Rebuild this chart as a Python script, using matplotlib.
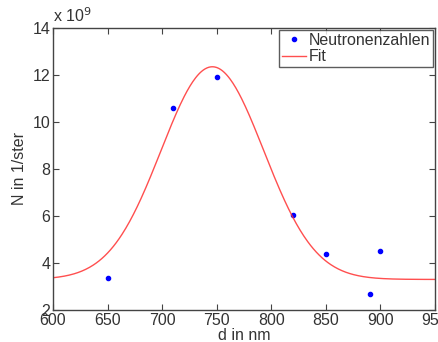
import matplotlib.pyplot as plt
import numpy as np

plt.rcParams['font.family'] = ['Liberation Sans', 'DejaVu Sans']

# measured points (N in units of 1e9 1/ster)
d_nm = [650, 710, 750, 820, 850, 890, 900]
n_counts = [3.35, 10.6, 11.9, 6.05, 4.4, 2.7, 4.5]

# gaussian fit parameters
fit_offset = 3.3
fit_amp = 9.05
fit_center = 746
fit_sigma = 47

d_fit = np.linspace(600, 950, 400)
n_fit = fit_offset + fit_amp * np.exp(-(d_fit - fit_center) ** 2 / (2 * fit_sigma ** 2))

text_col = '#333333'

fig = plt.figure(figsize=(4.39, 3.42), dpi=100)
ax = fig.add_axes([0.1207, 0.0936, 0.8703, 0.8246])

ax.plot(d_nm, n_counts, '.', color='#0000ff', markersize=6, label='Neutronenzahlen')
ax.plot(d_fit, n_fit, '-', color='#ff3030', linewidth=1.0, alpha=0.85, label='Fit')

ax.set_xlim(600, 950)
ax.set_ylim(2, 14)
ax.set_xticks(np.arange(600, 951, 50))
ax.set_yticks(np.arange(2, 15, 2))
ax.tick_params(direction='in', top=True, right=True, length=4, width=0.8,
               labelsize=11.5, colors='#444444', labelcolor=text_col, pad=2)
for s in ax.spines.values():
    s.set_color('#444444')
    s.set_linewidth(1.0)

ax.set_xlabel('d in nm', fontsize=11.5, color=text_col, labelpad=0)
ax.set_ylabel('N in 1/ster', fontsize=11.5, color=text_col, labelpad=4)
ax.text(0.0, 1.01, r'x 10$^9$', transform=ax.transAxes, fontsize=11.5,
        color=text_col, ha='left', va='bottom')

leg = ax.legend(loc='upper right', fontsize=11.5, frameon=True, fancybox=False,
                borderaxespad=0.15, handlelength=1.5, handletextpad=0.2,
                borderpad=0.15, labelspacing=0.1)
leg.get_frame().set_edgecolor('#333333')
leg.get_frame().set_linewidth(1.0)
for t in leg.get_texts():
    t.set_color(text_col)

fig.savefig('out.png', dpi=100)
